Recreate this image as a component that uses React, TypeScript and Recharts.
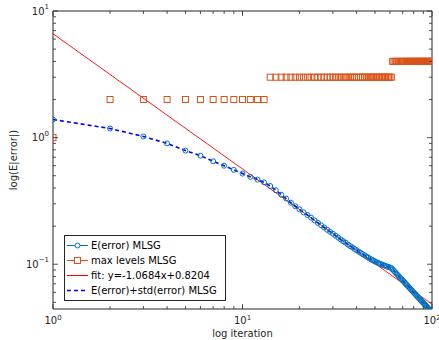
import { LineChart, Line, XAxis, YAxis, Legend, Label } from 'recharts';

const FONT = '"DejaVu Sans", sans-serif';
const INK = '#262626';

const iterations = Array.from({ length: 100 }, (_, i) => i + 1);

// E(error) MLSG, one value per iteration
const meanErr = [
  1.39, 1.18, 1.02, 0.9, 0.79, 0.72, 0.65, 0.6, 0.556, 0.52,
  0.49, 0.466, 0.443, 0.415, 0.384, 0.354, 0.33, 0.306, 0.287, 0.271,
  0.257, 0.245, 0.233, 0.222, 0.212, 0.203, 0.195, 0.187, 0.18, 0.174,
  0.168, 0.162, 0.157, 0.152, 0.148, 0.143, 0.139, 0.136, 0.132, 0.129,
  0.1258, 0.123, 0.1203, 0.1178, 0.1153, 0.113, 0.1108, 0.1088, 0.107, 0.1053,
  0.1038, 0.1024, 0.1011, 0.0999, 0.0988, 0.0978, 0.0968, 0.0959, 0.095, 0.0942,
  0.0934, 0.0909, 0.0886, 0.0864, 0.0842, 0.0821, 0.0801, 0.0782, 0.0764, 0.0746,
  0.0729, 0.0712, 0.0696, 0.0681, 0.0666, 0.0652, 0.0638, 0.0625, 0.0612, 0.0599,
  0.0587, 0.0576, 0.0564, 0.0553, 0.0543, 0.0533, 0.0523, 0.0513, 0.0504, 0.0494,
  0.0486, 0.0477, 0.0469, 0.0461, 0.0453, 0.0445, 0.0437, 0.043, 0.0423, 0.0416,
];

// E(error)+std(error): the std is too small to separate from the mean here
const meanPlusStd = meanErr;

// max levels: [level, number of consecutive iterations]
const levelRuns: [number, number][] = [[1, 1], [2, 12], [3, 48], [4, 39]];

// fit: y = -1.0684x + 0.8204 in log10 space, end points
const fitX = [1, 100];
const fitY = [6.61, 0.0483];

const xTicks = [1, 2, 3, 4, 5, 6, 7, 8, 9, 10, 20, 30, 40, 50, 60, 70, 80, 90, 100];
const yTicks = [
  0.05, 0.06, 0.07, 0.08, 0.09, 0.1, 0.2, 0.3, 0.4, 0.5, 0.6, 0.7, 0.8, 0.9,
  1, 2, 3, 4, 5, 6, 7, 8, 9, 10,
];
const xMajor = [1, 10, 100];
const yMajor = [0.1, 1, 10];

const levels = levelRuns.flatMap(([lv, n]) => Array(n).fill(lv));
const errData = iterations.map((x, i) => ({ x, y: meanErr[i] }));
const stdData = iterations.map((x, i) => ({ x, y: meanPlusStd[i] }));
const levelData = iterations.map((x, i) => ({ x, y: levels[i] }));
const fitData = fitX.map((x, i) => ({ x, y: fitY[i] }));

const isMajor = (list: number[], v: number) => list.some(m => Math.abs(m - v) < 1e-9);

function Pow({ v }: { v: number }) {
  const e = Math.round(Math.log10(v));
  return (
    <>
      10<tspan dy={-4} fontSize={7}>{e < 0 ? `\u2212${-e}` : e}</tspan>
    </>
  );
}

const makeTick = (side: 'left' | 'right' | 'top' | 'bottom', majors: number[]) => (props: any) => {
  const { x, y, payload } = props;
  const v = payload.value;
  const major = isMajor(majors, v);
  const len = major ? 5 : 3;
  let x2 = x, y2 = y;
  if (side === 'left') x2 = x + len;
  if (side === 'right') x2 = x - len;
  if (side === 'bottom') y2 = y - len;
  if (side === 'top') y2 = y + len;
  return (
    <g>
      <line x1={x} y1={y} x2={x2} y2={y2} stroke={INK} strokeWidth={0.8} />
      {major && side === 'left' && (
        <text x={x - 4} y={y} textAnchor="end" dominantBaseline="central" fontSize={10} fontFamily={FONT} fill={INK}>
          <Pow v={v} />
        </text>
      )}
      {major && side === 'bottom' && (
        <text x={x} y={y + 14.5} textAnchor="middle" fontSize={10} fontFamily={FONT} fill={INK}>
          <Pow v={v} />
        </text>
      )}
    </g>
  );
};

const circleDot = (p: any) => (
  <circle key={`c${p.index}`} cx={p.cx} cy={p.cy} r={2.5} fill="none" stroke="#0072BD" strokeWidth={1} />
);
const squareDot = (p: any) => (
  <rect key={`s${p.index}`} x={p.cx - 3} y={p.cy - 3} width={6} height={6} fill="none" stroke="#D95319" strokeWidth={1} />
);

const legendRows = [
  { label: 'E(error) MLSG', color: '#0072BD', mark: 'circle', dash: undefined },
  { label: 'max levels MLSG', color: '#D95319', mark: 'square', dash: undefined },
  { label: 'fit:  y=-1.0684x+0.8204', color: '#FF0000', mark: 'none', dash: undefined },
  { label: 'E(error)+std(error) MLSG', color: '#0000FF', mark: 'none', dash: '4 3' },
];

function LegendBox() {
  return (
    <svg width={162} height={66} style={{ display: 'block' }}>
      <rect x={0.5} y={0.5} width={161} height={65} fill="white" stroke={INK} strokeWidth={1} />
      {legendRows.map((r, i) => {
        const cy = 10.5 + i * 15;
        return (
          <g key={r.label}>
            <line x1={3} y1={cy} x2={24} y2={cy} stroke={r.color}
              strokeWidth={r.dash ? 1.4 : 1} strokeDasharray={r.dash} />
            {r.mark === 'circle' && <circle cx={13.5} cy={cy} r={2.5} fill="white" stroke={r.color} />}
            {r.mark === 'square' && <rect x={10.5} y={cy - 3} width={6} height={6} fill="white" stroke={r.color} />}
            <text x={27} y={cy} dominantBaseline="central" fontSize={10} fontFamily={FONT} fill="#000">
              {r.label}
            </text>
          </g>
        );
      })}
    </svg>
  );
}

export default function App() {
  const axisLine = { stroke: INK, strokeWidth: 1 };
  return (
    <div style={{ position: 'absolute', left: 0, top: 0, width: 439, height: 340, background: 'white' }}>
      <LineChart width={439} height={340} margin={{ top: 0, right: 0, bottom: 0, left: 0 }}>
        <XAxis dataKey="x" type="number" scale="log" domain={[1, 100]} ticks={xTicks}
          allowDataOverflow height={31} tickSize={0} tickMargin={0} tickLine={false}
          axisLine={axisLine} tick={makeTick('bottom', xMajor)} interval={0}>
          <Label content={() => (
            <text x={242.5} y={337} textAnchor="middle" fontSize={10} fontFamily={FONT} fill={INK}>
              log iteration
            </text>
          )} />
        </XAxis>
        <XAxis xAxisId="top" orientation="top" dataKey="x" type="number" scale="log" domain={[1, 100]}
          ticks={xTicks} allowDataOverflow height={11} tickSize={0} tickMargin={0} tickLine={false}
          axisLine={axisLine} tick={makeTick('top', xMajor)} interval={0} />
        <YAxis type="number" scale="log" domain={[0.0443, 10]} ticks={yTicks} allowDataOverflow
          width={53} tickSize={0} tickMargin={0} tickLine={false} axisLine={axisLine}
          tick={makeTick('left', yMajor)} interval={0}>
          <Label content={() => (
            <text x={13} y={160} transform="rotate(-90 13 160)" textAnchor="middle"
              dominantBaseline="central" fontSize={10} fontFamily={FONT} fill={INK}>
              log(E|error|)
            </text>
          )} />
        </YAxis>
        <YAxis yAxisId="right" orientation="right" type="number" scale="log" domain={[0.0443, 10]}
          ticks={yTicks} allowDataOverflow width={7} tickSize={0} tickMargin={0} tickLine={false}
          axisLine={axisLine} tick={makeTick('right', yMajor)} interval={0} />
        <Legend layout="vertical" align="center" verticalAlign="middle"
          wrapperStyle={{ left: 64, top: 235, width: 162, height: 66 }}
          content={() => <LegendBox />} />
        <Line data={errData} dataKey="y" name="E(error) MLSG" stroke="none"
          dot={circleDot} activeDot={false} isAnimationActive={false} />
        <Line data={levelData} dataKey="y" name="max levels MLSG" stroke="none"
          dot={squareDot} activeDot={false} isAnimationActive={false} />
        <Line data={fitData} dataKey="y" name="fit" stroke="#FF0000" strokeWidth={0.9}
          dot={false} activeDot={false} isAnimationActive={false} />
        <Line data={stdData} dataKey="y" name="E(error)+std(error) MLSG" stroke="#0000FF"
          strokeWidth={1.6} strokeDasharray="4 3" dot={false} activeDot={false} isAnimationActive={false} />
      </LineChart>
    </div>
  );
}
